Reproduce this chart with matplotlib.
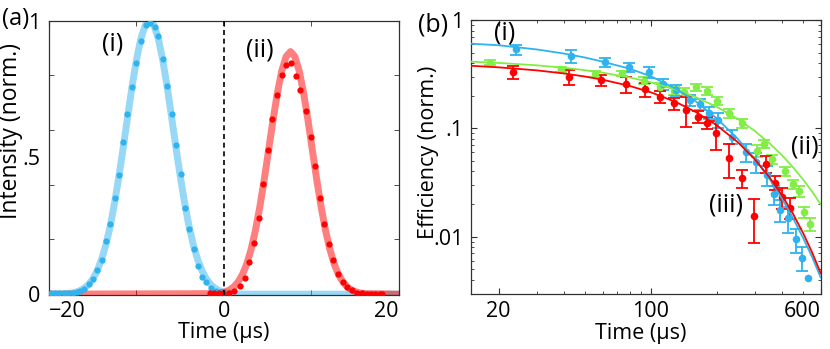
import matplotlib
matplotlib.use("Agg")
import matplotlib.pyplot as plt
import numpy as np
from matplotlib.ticker import FixedLocator, NullFormatter, FixedFormatter

plt.rcParams['font.family'] = ['Open Sans', 'DejaVu Sans']
plt.rcParams['axes.unicode_minus'] = True

# ---------------- Panel (a) data ----------------
blue_dot_t = [-19.8, -19.3, -18.8, -18.3, -17.8, -17.3, -16.76, -16.4, -16.0, -15.43, -14.97, -14.47,
              -13.98, -13.44, -13.03, -12.49, -11.99, -11.5, -11.04, -10.47, -10.01, -9.52, -8.95,
              -8.49, -7.92, -7.54, -6.93, -6.47, -5.98, -5.49, -4.95, -4.46, -3.95, -3.43, -2.93,
              -2.47, -2.09, -1.52, -0.95, -0.45, -0.07]
blue_dot_v = [0.003, 0.003, 0.003, 0.004, 0.005, 0.006, 0.008, 0.012, 0.018, 0.036, 0.055, 0.089,
              0.124, 0.194, 0.255, 0.352, 0.437, 0.555, 0.659, 0.756, 0.845, 0.927, 0.984,
              0.990, 0.976, 0.944, 0.860, 0.762, 0.659, 0.544, 0.440, 0.316, 0.237, 0.167, 0.103,
              0.063, 0.043, 0.024, 0.012, 0.007, 0.006]

red_dot_t = [-1.6, -1.1, -0.6, -0.07, 0.57, 1.14, 1.83, 2.4, 2.9, 3.39, 3.97, 4.5, 5.07, 5.45, 6.1,
             6.59, 7.13, 7.62, 8.27, 8.73, 9.34, 9.91, 10.4, 10.94, 11.43, 12.0, 12.5, 13.07, 13.64,
             14.1, 14.67, 15.25, 15.8, 16.3, 16.8, 17.3, 17.8, 18.1]
red_dot_v = [0.004, 0.004, 0.003, 0.003, 0.004, 0.012, 0.030, 0.061, 0.116, 0.188, 0.280, 0.403,
             0.526, 0.640, 0.728, 0.801, 0.838, 0.845, 0.798, 0.746, 0.668, 0.575, 0.468, 0.353,
             0.255, 0.185, 0.124, 0.073, 0.043, 0.027, 0.015, 0.006, 0.003, 0.002, 0.002, 0.002,
             0.002, 0.002]

blue_fit_t = [-20, -19.5, -19, -18.5, -18, -17.5, -17, -16.5, -16, -15.5, -15, -14.5, -14, -13.5,
              -13, -12.5, -12, -11.5, -11, -10.5, -10, -9.5, -9, -8.5, -8, -7.5, -7, -6.5, -6,
              -5.5, -5, -4.5, -4, -3.5, -3, -2.5, -2, -1.5, -1, -0.5, 0, 0.5, 1, 1.5, 2, 2.5, 3, 20]
blue_fit_v = [0.0001, 0.0002, 0.0005, 0.0011, 0.0021, 0.0039, 0.0070, 0.0124, 0.0211, 0.0347,
              0.0551, 0.0847, 0.126, 0.180, 0.249, 0.334, 0.432, 0.539, 0.651, 0.760, 0.857,
              0.934, 0.983, 1.0, 0.983, 0.934, 0.857, 0.760, 0.651, 0.539, 0.432, 0.334, 0.249,
              0.180, 0.126, 0.0847, 0.0551, 0.0347, 0.0211, 0.0124, 0.0070, 0.0039, 0.0021,
              0.0011, 0.0005, 0.0002, 0.0001, 0.0]

red_fit_t = [-20, -0.9, -0.4, 0.1, 0.6, 1.1, 1.6, 2.1, 2.6, 3.1, 3.6, 4.1, 4.6, 5.1, 5.6, 6.1, 6.6,
             7.1, 7.6, 8.1, 8.6, 9.1, 9.6, 10.1, 10.6, 11.1, 11.6, 12.1, 12.6, 13.1, 13.6, 14.1,
             14.6, 15.1, 15.6, 16.1, 20]
red_fit_v = [0.0, 0.0021, 0.0043, 0.0082, 0.0150, 0.0262, 0.0442, 0.0713, 0.110, 0.164, 0.234,
             0.320, 0.419, 0.527, 0.636, 0.735, 0.816, 0.869, 0.887, 0.869, 0.816, 0.735, 0.636,
             0.527, 0.419, 0.320, 0.234, 0.164, 0.110, 0.0713, 0.0442, 0.0262, 0.0150, 0.0082,
             0.0043, 0.0021, 0.0]

a_xticks = [-20, 0, 20]
a_xticklabels = ['\u221220', '0', '20']
a_yticks = [0, 0.5, 1]
a_yticklabels = ['0', '.5', '1']

# ---------------- Panel (b) data ----------------
b_blue_t = [24.1, 43.1, 61.5, 79.5, 97.5, 114, 130, 151, 167, 184, 202, 236, 272, 304, 340, 365,
            392, 425, 460, 493, 525]
b_blue_v = [0.536, 0.465, 0.409, 0.366, 0.331, 0.258, 0.225, 0.183, 0.168, 0.140, 0.120, 0.084,
            0.060, 0.049, 0.037, 0.0246, 0.0176, 0.0149, 0.0095, 0.0064, 0.0042]
b_blue_err = [0.057, 0.062, 0.040, 0.037, 0.037, 0.030, 0.028, 0.022, 0.020, 0.017, 0.020, 0.012,
              0.011, 0.010, 0.0075, 0.005, 0.004, 0.004, 0.0024, 0.0016, 0.0]

b_green_t = [18.2, 38.7, 55.5, 73.6, 92.5, 110, 127, 141, 160, 181, 201, 227, 261, 306, 330, 359,
             412, 448, 475, 501, 538]
b_green_v = [0.404, 0.351, 0.317, 0.322, 0.275, 0.242, 0.223, 0.218, 0.239, 0.223, 0.180, 0.138,
             0.111, 0.062, 0.0716, 0.052, 0.040, 0.0306, 0.0263, 0.0170, 0.0131]
b_green_err = [0.02, 0.02, 0.02, 0.02, 0.02, 0.02, 0.018, 0.018, 0.018, 0.018, 0.015, 0.012,
               0.010, 0.008, 0.006, 0.005, 0.004, 0.003, 0.003, 0.002, 0.0018]

b_red_t = [23.4, 41.9, 59.2, 77.1, 94.2, 110, 127, 145, 164, 181, 198, 228, 262, 297, 336, 370,
           399, 432]
b_red_v = [0.333, 0.300, 0.279, 0.255, 0.229, 0.195, 0.170, 0.148, 0.128, 0.113, 0.090, 0.053,
           0.0345, 0.0155, 0.0470, 0.0315, 0.0232, 0.0186]
b_red_err = [0.046, 0.049, 0.035, 0.041, 0.033, 0.024, 0.022, 0.046, 0.016, 0.015, 0.027, 0.018,
             0.0066, 0.0068, 0.0085, 0.0045, 0.005, 0.004]

b_fit_t = [15, 20, 30, 40, 50, 60, 80, 100, 130, 160, 200, 250, 300, 350, 400, 450, 500, 550, 600]
b_blue_fit = [0.605, 0.585, 0.535, 0.49, 0.45, 0.413, 0.355, 0.302, 0.232, 0.178, 0.124, 0.080,
              0.052, 0.034, 0.0222, 0.0146, 0.0096, 0.0064, 0.0042]
b_red_fit = [0.378, 0.366, 0.343, 0.321, 0.3006, 0.2813, 0.2462, 0.215, 0.1751, 0.1421, 0.1071,
             0.0746, 0.0515, 0.0352, 0.0239, 0.0160, 0.01066, 0.00704, 0.0046]
b_green_fit = [0.4126, 0.4021, 0.3818, 0.3625, 0.3442, 0.3268, 0.2947, 0.2657, 0.2274, 0.1947,
               0.1582, 0.1221, 0.0942, 0.0727, 0.0561, 0.0433, 0.0334, 0.0258, 0.0199]

b_xticks = [20, 100, 600]
b_xticklabels = ['20', '100', '600']
b_xminor = [30, 40, 50, 60, 70, 80, 90, 200, 300, 400, 500]
b_yticks = [0.01, 0.1, 1]
b_yticklabels = ['.01', '.1', '1']
b_yminor = [0.004, 0.005, 0.006, 0.007, 0.008, 0.009, 0.02, 0.03, 0.04, 0.05, 0.06, 0.07, 0.08,
            0.09, 0.2, 0.3, 0.4, 0.5, 0.6, 0.7, 0.8, 0.9]

# ---------------- colours ----------------
C_BLUE = '#2eb3ee'
C_RED = '#ff0000'
C_GREEN = '#80ee44'
SPINE = '#303030'
FS = 15.5
FL = 18

fig = plt.figure(figsize=(8.3, 3.49), dpi=100)

# ---------------- Panel (a) ----------------
axa = fig.add_axes([0.059, 0.1547, 0.4217, 0.786])
axa.plot(blue_fit_t, blue_fit_v, color=C_BLUE, alpha=0.5, lw=5, solid_capstyle='butt', zorder=2)
axa.plot(red_fit_t, red_fit_v, color=C_RED, alpha=0.5, lw=5, solid_capstyle='butt', zorder=2)
axa.plot(blue_dot_t, blue_dot_v, 'o', color=C_BLUE, ms=4.5, mec='none', zorder=3)
axa.plot(red_dot_t, red_dot_v, 'o', color=C_RED, ms=4.5, mec='none', zorder=3)
axa.axvline(0, color='black', lw=1.2, ls=(0, (3, 2.2)), zorder=4)
axa.set_xlim(-20, 20)
axa.set_ylim(-0.003, 1.0)
axa.xaxis.set_major_locator(FixedLocator(a_xticks))
axa.xaxis.set_major_formatter(FixedFormatter(a_xticklabels))
axa.xaxis.set_minor_locator(FixedLocator([-10, 10]))
axa.yaxis.set_major_locator(FixedLocator(a_yticks))
axa.yaxis.set_major_formatter(FixedFormatter(a_yticklabels))
axa.yaxis.set_minor_locator(FixedLocator([0.2, 0.4, 0.6, 0.8]))
axa.tick_params(axis='both', which='both', direction='in', top=True, right=True,
                labelsize=FS, colors=SPINE, labelcolor='black')
axa.tick_params(axis='x', which='both', length=3.5, pad=4)
axa.tick_params(axis='y', which='major', length=0, pad=6)
axa.tick_params(axis='y', which='minor', length=3.5)
xl = axa.get_xticklabels()
xl[0].set_ha('left')
xl[-1].set_ha('right')
for s in axa.spines.values():
    s.set_color(SPINE)
    s.set_linewidth(0.9)
axa.set_xlabel('Time (\u03bcs)', fontsize=FS)
axa.xaxis.set_label_coords(0.498, -0.098)
axa.set_ylabel('Intensity (norm.)', fontsize=16.5)
axa.yaxis.set_label_coords(-0.074, 0.598)
axa.text(0.183, 0.915, '(i)', transform=axa.transAxes, fontsize=FL, ha='center', va='center')
axa.text(0.603, 0.893, '(ii)', transform=axa.transAxes, fontsize=FL, ha='center', va='center')
fig.text(0.0185, 0.9456, '(a)', fontsize=17, ha='center', va='center')

# ---------------- Panel (b) ----------------
axb = fig.add_axes([0.5671, 0.1576, 0.4217, 0.785])
axb.set_xscale('log')
axb.set_yscale('log')
ekw = dict(fmt='o', ms=5.5, mec='none', capsize=4, elinewidth=1.3, capthick=1.3)


def draw_series(t, v, e, color):
    t = np.asarray(t)
    v = np.asarray(v)
    e = np.asarray(e)
    has = e > 0
    axb.errorbar(t[has], v[has], yerr=e[has], color=color, zorder=3, **ekw)
    if (~has).any():
        axb.plot(t[~has], v[~has], 'o', ms=5.5, mec='none', color=color, zorder=3)


draw_series(b_green_t, b_green_v, b_green_err, C_GREEN)
draw_series(b_blue_t, b_blue_v, b_blue_err, C_BLUE)
draw_series(b_red_t, b_red_v, b_red_err, C_RED)
axb.plot(b_fit_t, b_green_fit, color=C_GREEN, lw=1.3, zorder=4)
axb.plot(b_fit_t, b_blue_fit, color=C_BLUE, lw=1.3, zorder=4)
axb.plot(b_fit_t, b_red_fit, color=C_RED, lw=1.3, zorder=4)
axb.set_xlim(14.9, 600)
axb.set_ylim(0.00296, 1.0)
axb.xaxis.set_major_locator(FixedLocator(b_xticks))
axb.xaxis.set_major_formatter(FixedFormatter(b_xticklabels))
axb.xaxis.set_minor_locator(FixedLocator(b_xminor))
axb.xaxis.set_minor_formatter(NullFormatter())
axb.yaxis.set_major_locator(FixedLocator(b_yticks))
axb.yaxis.set_major_formatter(FixedFormatter(b_yticklabels))
axb.yaxis.set_minor_locator(FixedLocator(b_yminor))
axb.yaxis.set_minor_formatter(NullFormatter())
axb.tick_params(axis='both', which='both', direction='in', top=True, right=True,
                labelsize=FS, colors=SPINE, labelcolor='black')
axb.tick_params(axis='both', which='major', length=4, pad=5)
axb.tick_params(axis='both', which='minor', length=2.5)
bl = axb.get_xticklabels()
bl[-1].set_ha('right')
for s in axb.spines.values():
    s.set_color(SPINE)
    s.set_linewidth(0.9)
axb.set_xlabel('Time (\u03bcs)', fontsize=FS)
axb.xaxis.set_label_coords(0.487, -0.105)
axb.set_ylabel('Efficiency (norm.)', fontsize=FS)
axb.yaxis.set_label_coords(-0.09, 0.518)
axb.text(0.098, 0.953, '(i)', transform=axb.transAxes, fontsize=FL, ha='center', va='center')
axb.text(0.955, 0.537, '(ii)', transform=axb.transAxes, fontsize=FL, ha='center', va='center')
axb.text(0.729, 0.325, '(iii)', transform=axb.transAxes, fontsize=FL, ha='center', va='center')
fig.text(0.5217, 0.928, '(b)', fontsize=FL, ha='center', va='center')

fig.savefig('out.png', dpi=100)
